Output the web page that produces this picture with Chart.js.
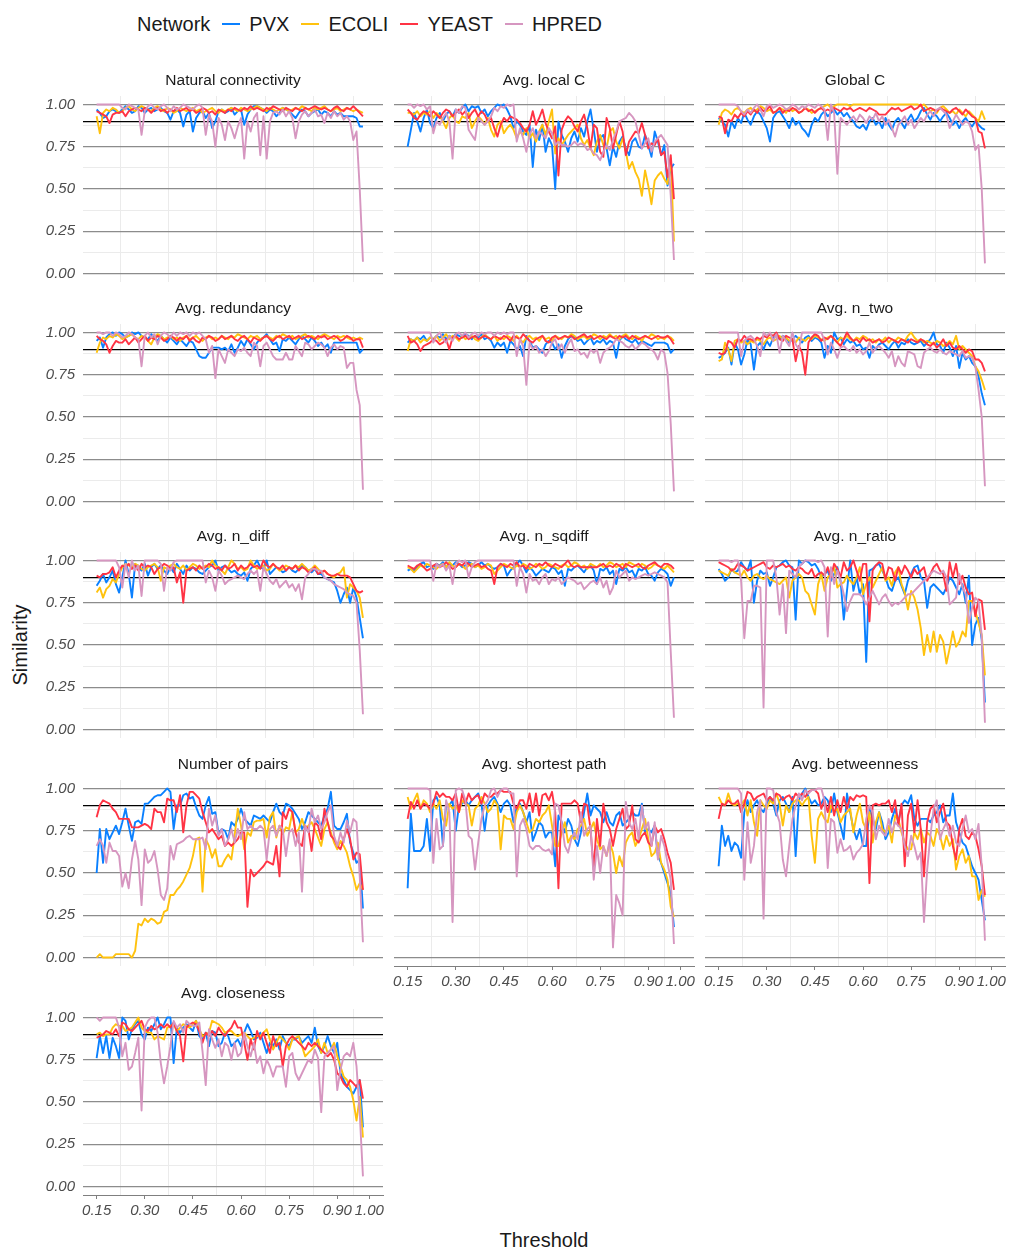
<!DOCTYPE html>
<html>
<head>
<meta charset="utf-8">
<title>Similarity by threshold</title>
<script src="https://cdn.jsdelivr.net/npm/chart.js@4.4.0/dist/chart.umd.min.js"></script>
<style>
  body { margin: 0; background: #fff; font-family: 'Liberation Sans', Arial, sans-serif; }
  #page { position: relative; width: 1009px; height: 1249px; overflow: hidden; background: #fff; }
  #page canvas { position: absolute; }
  .legend { position: absolute; left: 137px; top: 12px; height: 24px; display: flex; align-items: center;
            font-size: 20px; color: #1a1a1a; white-space: nowrap; }
  .legend .key { display: inline-block; width: 18px; height: 2px; margin: 0 9px 0 12px; }
  .axis-title { position: absolute; width: 200px; height: 24px; line-height: 24px; text-align: center;
                font-size: 20px; color: #1a1a1a; }
</style>
</head>
<body>
<div id="page">
  <div class="legend">
    <span>Network</span>
    <span class="key" style="background:#0a80ff"></span><span>PVX</span>
    <span class="key" style="background:#ffc20e"></span><span>ECOLI</span>
    <span class="key" style="background:#ff3344"></span><span>YEAST</span>
    <span class="key" style="background:#d696c0"></span><span>HPRED</span>
  </div>
  <div class="axis-title" style="left:-80px; top:633px; transform: rotate(-90deg);">Similarity</div>
  <div class="axis-title" style="left:444px; top:1228px;">Threshold</div>
</div>
<script>
// thresholds on the x axis
const thresholds = [0.15,0.16,0.17,0.18,0.19,0.20,0.21,0.22,0.23,0.24,
  0.25,0.26,0.27,0.28,0.29,0.30,0.31,0.32,0.33,0.34,
  0.35,0.36,0.37,0.38,0.39,0.40,0.41,0.42,0.43,0.44,
  0.45,0.46,0.47,0.48,0.49,0.50,0.51,0.52,0.53,0.54,
  0.55,0.56,0.57,0.58,0.59,0.60,0.61,0.62,0.63,0.64,
  0.65,0.66,0.67,0.68,0.69,0.70,0.71,0.72,0.73,0.74,
  0.75,0.76,0.77,0.78,0.79,0.80,0.81,0.82,0.83,0.84,
  0.85,0.86,0.87,0.88,0.89,0.90,0.91,0.92,0.93,0.94,
  0.95,0.96,0.97,0.98];

const networks = ['PVX', 'ECOLI', 'YEAST', 'HPRED'];
const colors = ['#0a80ff', '#ffc20e', '#ff3344', '#d696c0'];

const xMajor = [0.15, 0.30, 0.45, 0.60, 0.75, 0.90, 1.00];
const xMinor = [0.225, 0.375, 0.525, 0.675, 0.825, 0.95];
const yMajor = [0, 0.25, 0.5, 0.75, 1];
const yMinor = [0.125, 0.375, 0.625, 0.875];
const refLine = 0.9;

// similarity values in percent, one value per threshold
const natConnPVX = [97,95,92,93,96,97,96,95,97,99,97,95,96,99,98,95,97,98,96,97,98,96,95,91,96,97,95,87,94,96,84,92,95,96,92,95,86,90,96,97,95,96,98,94,96,97,88,94,97,99,99,98,97,95,97,96,93,95,98,97,96,94,92,95,97,96,93,95,96,97,94,96,95,93,96,94,95,93,93,93,93,92,87,87];
const natConnECOLI = [93,83,95,97,96,98,97,95,96,98,99,97,96,98,99,98,97,96,98,99,97,96,98,97,95,96,98,97,96,97,98,96,97,95,96,97,98,96,95,97,96,97,98,97,96,98,97,96,97,98,99,98,97,96,98,97,96,97,98,97,96,97,98,97,99,98,97,96,98,97,98,99,97,96,97,98,96,97,98,97,96,97,96,95];
const natConnYEAST = [96,95,94,93,89,94,95,95,96,93,96,97,98,97,96,98,97,95,97,98,96,97,95,97,96,98,96,97,98,96,97,95,96,98,97,95,96,94,97,96,95,97,96,98,97,96,98,97,99,97,98,97,96,98,97,99,98,97,96,98,97,96,98,97,96,98,97,98,99,98,97,98,97,96,98,99,97,96,98,97,99,97,95,93];
const natConnHPRED = [100,100,100,100,100,100,100,100,98,97,100,99,98,97,82,96,99,100,98,97,99,100,98,96,99,97,98,100,99,98,97,99,100,98,82,94,90,75,92,88,79,90,86,80,87,92,68,90,84,92,95,70,93,68,90,95,96,94,97,93,96,92,80,90,94,96,93,95,97,93,94,89,95,92,96,93,95,91,93,90,79,84,50,7];

const localCPVX = [75,85,95,90,84,92,97,89,86,92,95,90,94,96,93,97,95,98,100,96,99,98,99,95,97,93,96,98,100,99,100,97,93,86,90,88,84,82,88,63,85,79,88,72,80,76,50,90,82,78,72,80,84,78,86,81,90,97,85,72,80,82,74,64,75,69,78,81,74,70,78,80,75,74,82,76,69,84,78,70,76,52,62,65];
const localCECOLI = [95,95,94,96,93,95,94,96,92,95,93,90,86,92,94,90,89,93,92,95,86,90,93,91,88,92,85,81,88,90,83,86,88,85,80,84,82,86,80,83,78,84,88,82,90,97,71,80,76,79,82,84,86,88,80,76,79,74,70,78,82,76,74,84,86,78,74,80,72,62,66,60,56,46,61,52,41,55,58,60,56,53,68,19];
const localCYEAST = [97,95,92,91,94,96,95,93,96,94,92,95,97,96,93,95,97,94,96,92,95,97,93,96,94,90,92,86,81,88,92,90,93,92,91,89,86,84,88,96,88,92,97,89,84,80,87,58,85,90,93,91,87,84,90,94,86,74,88,86,72,69,92,86,74,82,90,84,70,78,81,84,83,89,82,74,77,76,80,70,72,57,70,44];
const localCHPRED = [100,100,98,100,99,100,97,99,83,90,88,92,95,90,68,97,95,99,98,85,82,79,92,90,88,90,93,98,96,99,98,100,99,100,78,86,80,72,82,86,80,84,82,80,86,83,76,78,76,76,75,76,78,76,77,76,73,74,71,70,67,72,76,73,79,84,90,91,92,95,93,90,82,74,77,80,72,78,80,82,79,76,46,8];

const globalCPVX = [92,90,88,81,90,86,92,89,95,91,88,93,96,94,90,86,78,92,95,96,93,90,86,92,88,90,86,84,81,88,92,90,94,96,93,95,97,94,96,93,95,92,90,87,86,88,85,90,92,88,90,86,92,88,85,90,92,89,86,91,94,90,92,96,98,94,91,95,93,90,93,95,92,88,90,86,90,92,89,87,90,88,86,85];
const globalCECOLI = [88,95,97,96,94,97,98,96,95,97,98,96,97,99,98,96,97,95,96,98,97,95,98,96,97,95,96,98,97,95,96,97,98,99,100,98,99,100,100,100,100,99,100,100,100,100,100,100,100,100,100,100,100,100,100,100,100,100,100,100,100,100,100,99,100,98,96,97,95,98,99,97,95,96,94,97,95,93,96,94,92,90,96,91];
const globalCYEAST = [93,92,83,91,90,94,92,95,93,96,94,97,95,98,96,97,99,95,96,98,95,97,96,98,97,95,96,98,96,97,95,97,98,96,97,96,98,97,96,98,97,98,96,97,98,97,96,98,97,96,94,94,94,96,98,97,98,96,97,98,99,97,98,100,96,97,98,97,96,98,97,96,95,97,98,96,94,97,95,93,92,84,83,74];
const globalCHPRED = [100,100,100,100,100,100,99,96,94,97,95,98,100,97,93,99,100,98,99,100,99,97,98,100,99,97,99,98,100,99,98,100,99,97,79,100,95,59,92,90,88,91,93,90,94,92,89,93,91,95,90,93,88,91,86,81,88,90,93,88,91,86,89,92,90,94,96,93,97,98,96,94,86,90,94,91,88,90,89,84,73,76,50,6];

const redundPVX = [95,97,91,97,99,100,98,100,99,97,98,100,99,100,98,97,96,99,97,95,98,96,94,97,95,93,96,94,92,95,94,90,86,85,85,88,91,91,91,90,91,89,93,88,91,95,92,96,93,90,94,96,97,99,96,93,94,89,96,95,97,95,93,96,98,96,94,97,95,92,94,91,93,88,94,94,94,94,94,94,94,94,88,90];
const redundECOLI = [88,94,97,96,98,97,99,98,96,97,98,99,97,96,98,97,95,93,97,99,98,96,97,98,96,97,95,97,98,96,97,98,96,95,97,98,96,97,96,98,97,96,98,97,99,98,97,96,98,97,98,96,97,98,97,96,98,97,99,98,97,98,96,97,98,99,97,98,97,96,98,99,98,97,96,98,97,98,97,96,97,96,97,96];
const redundYEAST = [98,96,95,93,88,92,95,94,94,96,93,95,97,94,96,98,95,97,96,98,97,95,96,98,97,95,97,96,98,95,97,95,94,97,96,98,97,95,96,98,96,97,98,96,95,97,98,96,94,97,96,95,97,98,96,95,97,98,96,97,98,96,97,98,96,97,98,97,96,98,97,98,96,97,98,97,95,96,98,97,95,96,96,91];
const redundHPRED = [100,100,99,100,100,98,100,99,97,98,100,99,97,96,80,98,100,97,99,93,98,100,99,97,100,98,100,99,100,98,100,99,100,98,96,88,92,73,90,86,82,90,88,86,90,89,91,88,86,94,92,80,92,94,90,86,84,84,84,88,84,84,92,89,86,94,93,90,92,94,93,91,86,91,93,90,92,91,79,82,82,66,57,7];

const eOnePVX = [94,96,95,97,96,98,95,97,96,98,97,99,96,98,97,99,98,97,99,98,96,98,97,99,96,97,95,91,94,92,94,88,95,93,90,92,86,98,95,91,92,90,88,93,95,94,90,93,85,92,96,98,97,95,96,93,95,97,93,95,94,96,93,95,94,85,95,98,96,95,94,96,93,95,94,93,92,94,94,94,94,93,88,90];
const eOneECOLI = [89,96,95,97,94,96,95,97,96,98,95,97,99,96,98,97,95,98,96,97,98,96,95,97,99,97,96,98,95,97,96,98,97,95,98,96,94,97,98,96,97,95,98,96,97,95,98,97,96,98,97,99,98,96,97,98,96,97,99,98,96,98,97,99,97,98,96,98,99,97,96,98,97,95,98,97,99,98,96,97,96,98,97,95];
const eOneYEAST = [98,94,95,93,89,92,93,94,96,95,93,94,96,90,97,98,96,97,98,96,97,98,96,97,98,97,96,98,97,96,98,97,95,98,97,96,99,97,95,94,96,97,98,95,94,97,98,96,97,98,97,98,96,97,98,99,97,98,96,97,98,97,96,98,97,96,98,97,98,96,98,97,96,97,98,97,96,97,98,97,97,98,96,93];
const eOneHPRED = [100,100,100,100,100,100,100,100,94,98,100,96,94,98,95,99,100,98,100,97,99,100,98,100,99,100,100,98,100,99,100,99,100,100,86,96,92,69,94,90,92,88,90,86,89,94,96,90,93,88,93,96,89,90,87,88,85,90,88,90,82,88,90,91,93,96,95,94,92,91,93,90,92,94,93,91,90,88,84,90,88,76,46,6];

const nTwoPVX = [85,86,88,91,81,94,90,81,87,96,93,78,92,94,90,95,92,97,98,96,98,97,94,96,98,96,94,97,98,95,97,96,94,85,92,88,100,96,97,93,96,94,95,92,93,90,91,85,92,90,93,94,92,90,93,95,91,94,93,96,94,93,94,95,92,94,96,100,93,92,88,94,91,86,92,79,88,84,86,82,80,74,64,57];
const nTwoECOLI = [83,84,94,90,83,95,96,94,95,93,95,94,96,95,93,96,97,95,96,98,96,97,95,96,94,97,96,95,97,96,98,97,96,95,97,98,96,94,97,96,98,96,95,97,96,98,97,95,96,94,96,95,97,94,96,95,97,96,95,98,100,97,95,96,94,95,94,93,95,94,92,93,95,93,98,90,92,90,88,86,80,77,72,66];
const nTwoYEAST = [88,87,88,95,94,91,96,95,98,96,96,95,97,96,98,97,99,98,100,96,95,98,97,96,83,92,88,75,94,97,99,98,95,97,96,98,96,94,92,96,100,97,95,96,94,97,95,96,94,95,96,94,95,97,96,95,94,96,95,94,96,95,94,96,95,93,92,94,91,93,96,92,94,91,90,92,90,88,90,89,84,84,82,77];
const nTwoHPRED = [100,100,100,100,100,100,100,86,95,97,98,96,92,86,100,98,100,95,99,88,98,95,92,100,93,90,100,100,100,100,100,100,100,95,87,94,90,85,91,92,90,89,92,88,90,87,89,94,88,91,92,90,88,85,89,80,86,82,80,89,88,87,80,79,88,90,91,89,88,90,88,87,89,88,87,86,89,85,86,85,80,66,50,9];

const nDiffPVX = [85,88,92,87,90,94,86,81,90,100,92,78,98,96,94,98,91,96,98,95,97,94,92,96,93,98,95,92,97,94,96,95,93,92,94,96,97,100,94,96,97,95,93,94,92,91,93,88,95,97,100,96,95,100,92,94,96,95,93,94,96,94,93,95,97,96,94,93,95,92,92,90,89,88,87,82,75,80,84,75,84,78,66,54];
const nDiffECOLI = [81,84,78,83,85,89,87,92,96,98,97,96,98,97,95,94,96,97,98,96,88,96,95,97,98,96,95,97,94,96,98,97,95,96,97,96,100,97,96,94,92,96,100,98,95,96,94,95,100,97,95,96,97,94,95,98,96,94,95,97,96,95,97,96,98,96,94,95,97,95,93,94,92,91,90,92,93,96,78,86,84,82,78,66];
const nDiffYEAST = [91,90,92,92,93,96,90,94,97,96,98,95,97,94,98,96,97,96,92,95,96,98,97,95,96,87,93,75,94,95,96,94,97,95,96,98,97,95,96,94,97,95,96,98,94,97,95,96,98,96,97,95,100,97,96,98,96,95,97,94,96,95,97,94,96,95,93,94,96,92,93,94,92,91,91,92,91,91,91,90,86,82,81,82];
const nDiffHPRED = [100,100,100,100,100,100,100,96,84,98,90,100,94,97,79,100,100,100,100,100,98,82,96,94,99,100,100,100,100,100,100,100,100,100,87,94,90,82,94,91,86,88,89,90,91,90,89,92,94,92,94,82,96,92,88,86,89,84,86,88,84,86,82,86,77,90,92,95,95,94,94,90,89,88,86,85,84,83,81,80,79,75,47,9];

const nSqPVX = [94,95,94,96,98,99,96,97,95,98,97,99,96,98,97,99,98,96,97,99,98,96,97,99,97,98,96,95,96,98,97,91,94,96,98,100,97,93,96,94,91,93,95,94,93,96,95,92,94,85,95,94,96,97,95,93,96,97,94,86,95,94,96,92,94,86,95,94,96,93,94,90,95,94,96,92,91,88,93,95,94,92,85,90];
const nSqECOLI = [96,95,93,95,97,96,98,97,96,95,97,98,96,99,97,96,98,97,95,97,98,96,97,95,96,98,97,92,94,96,98,97,96,95,97,96,98,97,95,96,98,97,95,96,98,97,96,95,97,98,96,97,99,98,96,97,95,98,97,96,98,96,97,99,98,96,97,98,96,99,98,97,96,98,97,95,96,98,97,96,95,97,95,93];
const nSqYEAST = [97,96,95,97,98,96,94,95,97,98,96,97,99,97,95,96,98,97,99,98,96,97,98,96,97,95,94,86,96,98,97,96,98,97,99,96,97,95,98,97,96,98,97,99,97,96,98,97,96,98,100,97,96,97,96,96,96,96,96,96,97,98,96,97,96,98,97,95,98,97,96,97,98,96,95,97,98,99,97,96,98,98,97,95];
const nSqHPRED = [100,100,100,100,100,100,100,100,88,98,96,98,94,97,86,98,100,99,100,90,96,99,100,100,100,100,100,100,100,100,100,100,100,100,85,96,92,81,92,88,89,86,90,92,86,89,88,90,86,88,90,89,88,86,87,83,85,87,88,86,90,84,88,80,84,94,90,92,94,88,90,89,90,91,92,91,92,93,92,91,90,87,46,7];

const nRatioPVX = [95,92,88,90,95,93,94,99,96,94,100,75,88,94,92,93,85,90,96,97,99,100,97,96,65,100,98,100,99,97,98,95,90,92,94,88,92,96,88,65,82,100,82,90,80,86,40,94,95,97,98,94,90,84,82,88,90,85,80,88,92,96,97,90,88,72,84,86,84,82,80,84,90,88,84,80,86,75,91,50,62,66,53,16];
const nRatioECOLI = [94,93,92,91,95,93,92,91,94,90,88,91,92,90,89,91,89,88,87,86,88,90,78,88,90,92,90,82,80,74,68,86,92,82,90,92,96,84,86,87,91,88,86,90,96,80,86,90,84,88,92,96,88,90,85,93,96,86,81,71,82,78,71,60,44,56,46,58,46,56,52,39,48,58,49,52,58,55,76,76,70,63,56,32];
const nRatioYEAST = [99,98,97,96,94,95,98,97,96,94,95,96,97,98,99,96,95,97,96,97,98,96,97,95,94,96,95,93,92,95,90,92,93,91,96,90,98,95,90,99,94,96,100,94,88,98,98,64,94,97,99,98,89,96,95,88,96,92,97,94,90,95,92,94,96,88,92,96,98,94,92,82,99,90,98,86,91,84,80,81,67,77,76,59];
const nRatioHPRED = [100,100,100,100,99,100,100,88,54,76,76,85,85,84,13,100,100,100,90,68,86,57,94,92,90,96,98,100,100,100,100,99,100,96,55,96,86,94,88,80,70,76,80,80,80,78,74,78,82,78,74,78,80,76,73,75,74,76,78,80,80,82,84,86,88,90,92,94,93,92,94,90,74,76,78,92,84,80,63,72,78,76,55,4];

const pairsPVX = [50,76,56,76,70,74,78,73,80,88,78,69,80,81,79,91,91,93,95,96,96,98,100,98,76,90,90,96,97,94,95,89,84,82,90,95,85,86,73,76,75,70,80,78,82,88,82,80,78,84,83,82,84,82,80,86,91,86,84,91,90,88,85,82,76,80,86,84,82,80,78,84,88,98,78,76,76,80,85,68,62,56,58,29];
const pairsECOLI = [0,2,0,0,0,0,2,2,2,2,2,0,4,20,19,23,21,23,22,20,21,27,28,37,37,40,42,45,49,53,60,70,71,39,70,66,59,64,54,54,58,61,58,72,88,78,64,74,72,80,81,81,82,71,83,86,71,78,73,77,76,86,74,76,82,76,78,80,76,71,66,76,80,74,68,64,69,66,62,54,48,40,44,40];
const pairsYEAST = [83,90,93,92,91,88,86,82,82,82,82,77,77,77,78,79,78,76,88,86,86,80,94,93,93,86,96,74,90,98,98,96,94,86,80,74,76,73,70,72,66,68,66,68,70,74,74,30,52,48,50,52,54,57,56,55,66,48,86,82,88,86,74,68,66,78,76,63,80,78,70,88,80,72,70,66,64,70,76,70,58,62,61,40];
const pairsHPRED = [66,70,66,56,68,63,63,60,42,50,41,58,69,58,31,64,56,58,63,52,37,34,41,66,58,67,68,69,71,72,70,70,70,71,64,88,78,84,72,76,66,70,76,68,76,70,86,76,78,76,76,78,76,58,76,78,72,78,76,60,74,76,66,74,39,78,74,88,80,84,76,80,86,90,72,66,74,68,81,74,82,80,48,9];

const pathPVX = [41,85,63,63,63,66,82,63,93,95,90,66,91,90,93,75,90,91,93,90,93,95,97,91,75,90,93,95,91,86,91,93,90,80,89,91,86,80,86,69,74,80,78,71,74,74,54,84,80,74,82,78,70,66,74,86,97,84,90,88,86,80,86,80,78,84,86,78,80,82,86,84,84,91,74,76,74,78,60,56,50,44,38,18];
const pathECOLI = [95,88,93,97,88,93,91,86,91,88,93,82,78,91,88,90,86,93,91,90,78,88,90,95,91,86,88,93,90,64,84,82,82,76,86,90,86,80,74,76,82,80,84,86,90,78,66,66,74,80,68,72,70,76,78,82,72,76,80,70,64,66,60,68,62,50,60,54,68,72,74,66,70,76,82,70,60,62,68,56,52,46,30,24];
const pathYEAST = [82,92,88,93,88,91,90,88,91,98,95,97,95,95,93,97,86,97,91,97,93,95,96,91,97,95,95,97,97,99,98,98,98,91,88,93,93,88,97,86,97,84,96,97,93,98,86,41,91,91,91,91,93,91,80,91,90,76,52,82,66,91,80,76,66,76,82,88,76,78,90,70,68,72,74,68,66,78,74,76,70,62,56,40];
const pathHPRED = [100,100,100,100,100,100,100,99,56,82,64,66,93,86,21,99,100,99,93,72,70,52,68,82,90,93,99,100,95,99,100,100,97,97,48,78,82,76,66,64,66,66,64,63,64,61,91,90,80,66,62,70,74,70,86,72,76,78,46,66,50,66,60,70,6,37,32,25,92,80,76,82,70,90,76,80,66,80,58,72,66,56,46,8];

const betwPVX = [54,78,66,72,63,68,66,59,86,93,86,90,93,88,86,91,95,91,84,93,95,91,86,95,60,93,97,100,95,91,93,90,91,95,93,86,97,86,78,70,97,86,76,70,76,66,66,88,82,76,86,80,70,74,82,88,80,90,93,91,96,82,78,82,82,82,80,84,86,90,80,84,84,97,80,74,68,66,60,54,50,46,34,22];
const betwECOLI = [95,91,90,97,91,90,91,90,93,84,93,80,72,93,90,88,93,91,97,91,78,90,86,91,93,93,90,93,95,72,56,82,86,82,80,90,86,88,80,84,86,88,74,84,91,80,76,86,68,80,86,76,74,78,68,84,82,74,68,64,64,74,70,76,68,74,72,66,76,72,64,72,66,70,52,60,64,56,60,48,48,34,40,36];
const betwYEAST = [82,91,90,93,91,91,93,86,91,98,97,93,95,96,97,93,95,93,97,96,93,95,96,93,97,95,97,95,98,99,99,97,88,93,86,95,84,93,86,95,88,95,93,96,95,96,95,44,90,91,90,91,91,93,86,93,78,91,54,84,91,74,93,76,48,80,88,90,80,86,91,80,78,66,58,76,82,72,70,74,72,64,54,37];
const betwHPRED = [100,100,100,100,100,100,100,97,46,80,56,66,86,93,23,100,100,99,86,80,58,48,66,82,90,97,93,99,97,99,99,100,100,93,53,82,80,62,70,63,64,66,58,62,64,67,82,90,86,70,78,74,72,82,74,80,78,76,66,60,72,66,58,62,21,52,72,88,93,70,76,80,72,78,68,66,76,84,74,76,70,79,54,10];

const closePVX = [76,89,79,89,76,88,83,76,100,98,87,93,96,98,90,87,94,92,96,100,93,96,100,100,73,94,91,94,96,94,92,98,89,87,91,83,92,91,83,85,91,89,83,85,87,83,91,96,92,87,88,91,85,79,85,83,87,81,89,85,83,87,87,89,85,87,89,85,94,83,79,83,89,83,79,85,67,63,59,57,55,59,63,35];
const closeECOLI = [90,91,89,90,90,94,96,95,95,92,93,94,97,100,94,92,91,91,87,89,88,87,94,95,96,92,94,96,95,94,96,98,93,89,90,91,98,97,96,94,91,92,92,90,89,90,91,89,87,88,89,89,91,93,87,81,85,89,87,85,81,87,88,89,83,77,79,81,83,87,79,85,79,81,85,77,71,65,63,59,51,39,53,29];
const closeYEAST = [88,89,90,92,91,90,93,89,97,96,93,92,94,96,98,93,92,95,93,94,96,94,96,94,97,92,89,74,94,96,97,96,92,85,91,89,92,89,94,91,89,92,94,98,94,94,85,75,87,81,92,87,91,85,79,89,83,85,71,83,87,89,87,85,83,81,85,83,85,83,81,79,77,79,75,67,65,61,59,63,61,59,63,52];
const closeHPRED = [100,98,100,100,100,100,100,94,77,85,69,71,79,88,45,94,98,100,100,91,73,61,71,83,98,94,96,91,98,96,95,95,97,80,60,93,87,82,87,77,85,83,75,85,77,79,91,83,77,85,73,77,67,75,71,65,71,71,71,59,77,79,67,63,67,71,75,73,81,76,44,77,79,81,83,57,69,77,79,77,85,71,43,6];

const panels = [
  { title: 'Natural connectivity', series: [natConnPVX, natConnECOLI, natConnYEAST, natConnHPRED] },
  { title: 'Avg. local C', series: [localCPVX, localCECOLI, localCYEAST, localCHPRED] },
  { title: 'Global C', series: [globalCPVX, globalCECOLI, globalCYEAST, globalCHPRED] },
  { title: 'Avg. redundancy', series: [redundPVX, redundECOLI, redundYEAST, redundHPRED] },
  { title: 'Avg. e_one', series: [eOnePVX, eOneECOLI, eOneYEAST, eOneHPRED] },
  { title: 'Avg. n_two', series: [nTwoPVX, nTwoECOLI, nTwoYEAST, nTwoHPRED] },
  { title: 'Avg. n_diff', series: [nDiffPVX, nDiffECOLI, nDiffYEAST, nDiffHPRED] },
  { title: 'Avg. n_sqdiff', series: [nSqPVX, nSqECOLI, nSqYEAST, nSqHPRED] },
  { title: 'Avg. n_ratio', series: [nRatioPVX, nRatioECOLI, nRatioYEAST, nRatioHPRED] },
  { title: 'Number of pairs', series: [pairsPVX, pairsECOLI, pairsYEAST, pairsHPRED] },
  { title: 'Avg. shortest path', series: [pathPVX, pathECOLI, pathYEAST, pathHPRED] },
  { title: 'Avg. betweenness', series: [betwPVX, betwECOLI, betwYEAST, betwHPRED] },
  { title: 'Avg. closeness', series: [closePVX, closeECOLI, closeYEAST, closeHPRED] }
];

const FONT = "'Liberation Sans', Arial, Helvetica, sans-serif";
const PLOT_W = 300, PLOT_H = 186, TITLE_H = 26;
const xTicks = xMajor.concat(xMinor).sort((a, b) => a - b);
const yTicks = yMajor.concat(yMinor, [refLine]).sort((a, b) => a - b);

function yGridColor(v) {
  if (v === refLine) return '#000000';
  return yMajor.includes(v) ? '#8c8c8c' : '#ebebeb';
}

// one small chart per facet, placed so that the plot areas line up like the original grid
function drawPanel(p, idx) {
  const col = idx % 3, row = Math.floor(idx / 3);
  const bottom = row === 4 || (row === 3 && col > 0);
  const yW = col === 0 ? 60 : 14;
  const xH = bottom ? 40 : 24;   // keeps room for the half-height of the 0.00 label
  const plotLeft = 83 + 311 * col;
  const plotTop = Math.round(95.85 + 228.2 * row);

  const canvas = document.createElement('canvas');
  canvas.width = yW + PLOT_W + 14;
  canvas.height = TITLE_H + PLOT_H + xH;
  canvas.style.left = (plotLeft - yW) + 'px';
  canvas.style.top = (plotTop - TITLE_H) + 'px';
  document.getElementById('page').appendChild(canvas);

  new Chart(canvas.getContext('2d'), {
    type: 'line',
    data: {
      datasets: networks.map((n, k) => ({
        label: n,
        data: thresholds.map((t, i) => ({ x: t, y: p.series[k][i] / 100 })),
        borderColor: colors[k],
        borderWidth: 1.9,
        borderJoinStyle: 'round',
        pointRadius: 0,
        tension: 0,
        fill: false,
        order: 4 - k
      }))
    },
    options: {
      responsive: false,
      animation: false,
      events: [],
      devicePixelRatio: 1,
      layout: { padding: { top: 0, right: 14, bottom: 0, left: 0 } },
      plugins: {
        legend: { display: false },
        tooltip: { enabled: false },
        title: {
          display: true,
          text: p.title,
          fullSize: false,
          color: '#1a1a1a',
          font: { family: FONT, size: 15.5, weight: 'normal', lineHeight: 1.2 },
          padding: { top: 1, bottom: 6.4 }
        }
      },
      scales: {
        x: {
          type: 'linear',
          min: 0.1075,
          max: 1.0425,
          afterBuildTicks: s => { s.ticks = xTicks.map(v => ({ value: v })); },
          afterFit: s => { s.height = xH; },
          border: { display: bottom, color: '#7f7f7f', width: 1 },
          grid: {
            color: c => (c.tick && xMinor.includes(c.tick.value)) ? '#ebebeb' : 'rgba(0,0,0,0)',
            tickColor: c => (c.tick && xMajor.includes(c.tick.value)) ? '#7f7f7f' : 'rgba(0,0,0,0)',
            drawTicks: bottom,
            tickLength: 4,
            lineWidth: 1
          },
          ticks: {
            display: bottom,
            autoSkip: false,
            maxRotation: 0,
            padding: 3,
            color: '#4d4d4d',
            font: { family: FONT, size: 15, style: 'italic' },
            callback: v => xMajor.includes(v) ? v.toFixed(2) : ''
          }
        },
        y: {
          type: 'linear',
          min: -0.05,
          max: 1.05,
          afterBuildTicks: s => { s.ticks = yTicks.map(v => ({ value: v })); },
          afterFit: s => { s.width = yW; },
          border: { display: false },
          grid: {
            color: c => c.tick ? yGridColor(c.tick.value) : 'rgba(0,0,0,0)',
            lineWidth: c => (c.tick && (c.tick.value === refLine || yMajor.includes(c.tick.value))) ? 1.3 : 1,
            drawTicks: false
          },
          ticks: {
            display: col === 0,
            autoSkip: false,
            padding: 8,
            color: '#4d4d4d',
            font: { family: FONT, size: 15, style: 'italic' },
            callback: v => yMajor.includes(v) ? v.toFixed(2) : ''
          }
        }
      }
    }
  });
}

panels.forEach(drawPanel);
</script>
</body>
</html>
